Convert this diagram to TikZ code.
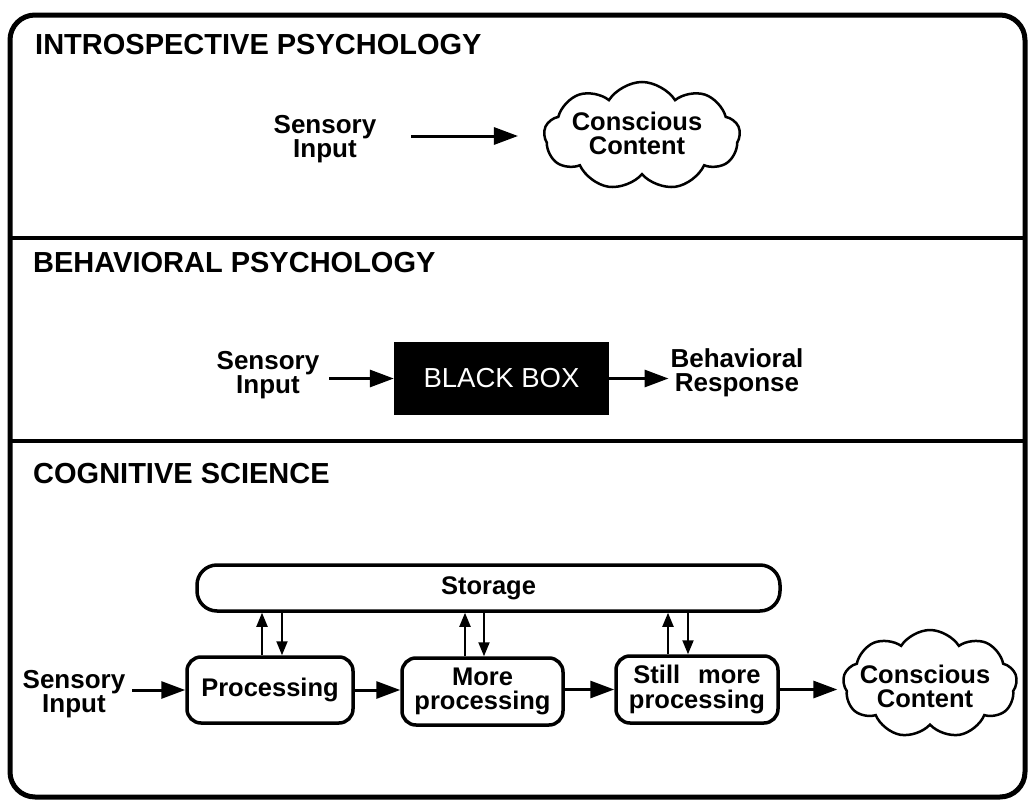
\documentclass[tikz,border=0pt]{standalone}
\usepackage{fontspec}
\setmainfont{Liberation Sans}
\usetikzlibrary{shapes.symbols,arrows.meta}
\begin{document}
\begin{tikzpicture}[x=1pt,y=-1pt,
  title/.style={anchor=base west,inner sep=0pt,font=\fontsize{29}{30}\selectfont\bfseries},
  lbl/.style={align=center,inner sep=0pt,outer sep=5pt,font=\fontsize{26}{24}\selectfont\bfseries},
  procbox/.style={draw,line width=3.5pt,rounded corners=14pt,align=center,inner sep=0pt,
    font=\fontsize{25.5}{24.5}\selectfont\bfseries},
  thought/.style={cloud,draw,line width=2.5pt,cloud puffs=9,cloud puff arc=115,inner sep=0pt},
  cloudtext/.style={align=center,inner sep=0pt,font=\fontsize{25.5}{24}\selectfont\bfseries},
  arr/.style={line width=3pt,-{Triangle[length=24pt,width=17pt]}},
  varr/.style={line width=2pt,-{Triangle[length=14pt,width=11pt]}},
  frameline/.style={line width=5pt},
  divider/.style={line width=4.5pt}
]
\useasboundingbox (0,0) rectangle (1029,803);

% frame and dividers
\draw[frameline,rounded corners=25pt] (10,15) rectangle (1025,797);
\coordinate (dl1) at (10,238);
\coordinate (dr1) at (1025,238);
\coordinate (dl2) at (10,441);
\coordinate (dr2) at (1025,441);
\draw[divider] (dl1) -- (dr1);
\draw[divider] (dl2) -- (dr2);

% titles
\node[title] (t1) at (35,54) {INTROSPECTIVE PSYCHOLOGY};
\node[title] (t2) at (33,272) {BEHAVIORAL PSYCHOLOGY};
\node[title] (t3) at (33,483) {COGNITIVE SCIENCE};

% row 1
\node[lbl] (s1) at (325,139) {Sensory\\Input};
\node[thought,aspect=1.8,minimum width=196pt,minimum height=108pt] (c1) at (642,136) {};
\node[cloudtext] (c1t) at (637,133) {Conscious\\Content};
\draw[arr] ([xshift=30pt]s1.east |- c1.west) -- ([xshift=-25pt]c1.west);

% row 2
\node[lbl] (s2) at (268,375) {Sensory\\Input};
\node[fill=black,text=white,minimum width=215pt,minimum height=73pt,inner sep=0pt,
  font=\fontsize{27.5}{30}\selectfont] (bb) at (501.5,378.5) {BLACK BOX};
\node[lbl] (beh) at (737,373) {Behavioral\\Response};
\draw[arr] ([xshift=5pt]s2.east |- bb.west) -- (bb.west);
\draw[arr] (bb.east) -- ([xshift=3pt]beh.west |- bb.east);

% row 3
\node[draw,line width=3.5pt,rounded corners=20pt,minimum width=583pt,minimum height=46pt,
  inner sep=0pt,font=\fontsize{25.5}{21}\selectfont\bfseries] (stor) at (488.5,588) {Storage};
\node[lbl] (s3) at (74,694) {Sensory\\Input};
\node[procbox,minimum width=166pt,minimum height=66pt] (p1) at (270,690) {Processing};
\node[procbox,minimum width=161pt,minimum height=67pt] (p2) at (482.5,691.5) {More\\processing};
\node[procbox,minimum width=162pt,minimum height=67pt] (p3) at (697,689.5) {Still\hspace{18pt}more\\processing};
\node[thought,aspect=1.6,minimum width=174pt,minimum height=108pt] (c3) at (930,684) {};
\node[cloudtext] (c3t) at (925,686) {Conscious\\Content};

\draw[arr] ([xshift=2pt]s3.east |- p1.west) -- (p1.west);
\draw[arr] (p1.east) -- (p1.east -| p2.west);
\draw[arr] (p2.east |- p3.west) -- (p3.west);
\draw[arr] (p3.east) -- ([xshift=-5pt]p3.east -| c3.west);

% storage exchanges
\coordinate (u1) at (262,0);
\coordinate (d1) at (282,0);
\coordinate (u2) at (465,0);
\coordinate (d2) at (484,0);
\coordinate (u3) at (668,0);
\coordinate (d3) at (688,0);
\draw[varr] (p1.north -| u1) -- (stor.south -| u1);
\draw[varr] (stor.south -| d1) -- (p1.north -| d1);
\draw[varr] (p2.north -| u2) -- (stor.south -| u2);
\draw[varr] (stor.south -| d2) -- (p2.north -| d2);
\draw[varr] (p3.north -| u3) -- (stor.south -| u3);
\draw[varr] (stor.south -| d3) -- (p3.north -| d3);
\end{tikzpicture}
\end{document}
